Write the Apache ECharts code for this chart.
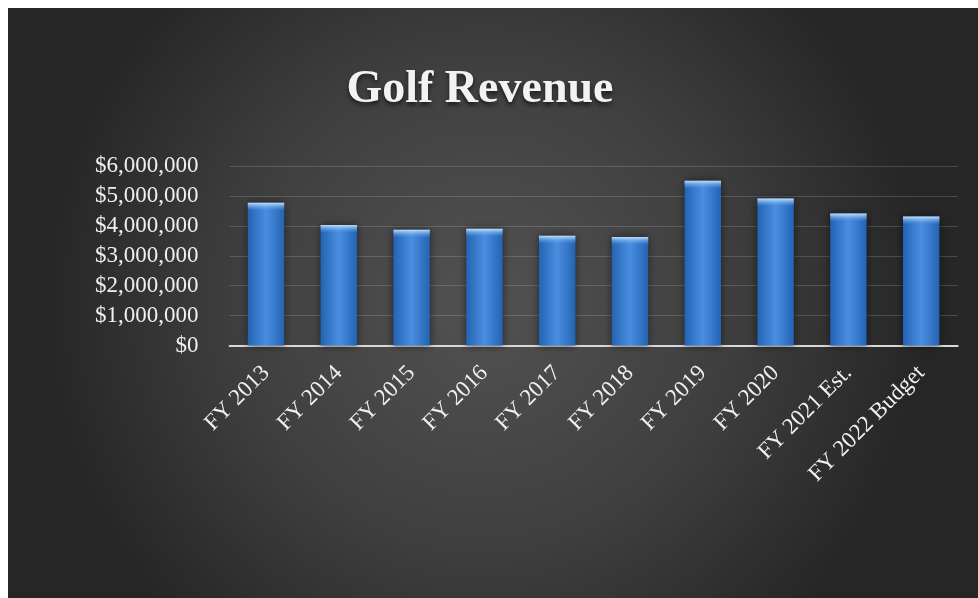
<!DOCTYPE html>
<html>
<head>
<meta charset="utf-8">
<script src="https://cdn.jsdelivr.net/npm/echarts@6/dist/echarts.min.js"></script>
<style>
html,body{margin:0;padding:0;background:#ffffff;}
#chart{position:absolute;left:8px;top:8px;width:970px;height:590px;}
</style>
</head>
<body>
<div id="chart"></div>
<script>
const categories = ["FY 2013","FY 2014","FY 2015","FY 2016","FY 2017","FY 2018","FY 2019","FY 2020","FY 2021 Est.","FY 2022 Budget"];
const revenue = [4770000,4030000,3870000,3900000,3670000,3630000,5510000,4910000,4410000,4310000];
const yTicks = [0,1000000,2000000,3000000,4000000,5000000,6000000];
const titleText = "Golf Revenue";

const chart = echarts.init(document.getElementById('chart'));
const fmt = v => '$' + v.toLocaleString('en-US');
chart.setOption({
  animation:false,
  backgroundColor:{
    type:'radial', x:0.49, y:0.5, r:0.75,
    colorStops:[{offset:0,color:'#525252'},{offset:0.55,color:'#3f3f3f'},{offset:1,color:'#262626'}]
  },
  graphic:[{
    type:'text', x:472, y:82,
    style:{
      text:titleText, fill:'#f2f2f2', fontFamily:'Liberation Serif', fontWeight:'bold',
      fontSize:46, align:'center', verticalAlign:'middle',
      textShadowColor:'rgba(0,0,0,0.6)', textShadowBlur:4, textShadowOffsetY:3
    }
  }],
  grid:{left:221.6, right:20.4, top:158, bottom:252.5},
  xAxis:{
    type:'category', data:categories,
    axisLine:{show:true, lineStyle:{color:'#d9d9d9', width:2}},
    axisTick:{show:false},
    axisLabel:{rotate:45, interval:0, margin:24, color:'#f0f0f0', fontFamily:'Liberation Serif', fontSize:23}
  },
  yAxis:{
    type:'value', min:yTicks[0], max:yTicks[yTicks.length-1], interval:1000000,
    axisLine:{show:false}, axisTick:{show:false},
    splitLine:{lineStyle:{color:'rgba(200,200,200,0.22)', width:1}},
    axisLabel:{margin:31, color:'#f0f0f0', fontFamily:'Liberation Serif', fontSize:23, formatter:fmt}
  },
  series:[{
    type:'bar', data:revenue, barWidth:'50%', barGap:'-100%',
    itemStyle:{
      color:{type:'linear', x:0, y:0, x2:1, y2:0,
        colorStops:[{offset:0,color:'#2463b4'},{offset:0.5,color:'#4a8ee0'},{offset:1,color:'#2463b4'}]},
      shadowColor:'rgba(0,0,0,0.55)', shadowBlur:8
    }
  },{
    type:'pictorialBar', data:revenue, barWidth:'50%', barGap:'-100%',
    symbol:'rect', symbolPosition:'end', symbolSize:['100%',8], symbolOffset:[0,0],
    silent:true, z:3,
    itemStyle:{
      color:{type:'linear', x:0, y:0, x2:0, y2:1,
        colorStops:[{offset:0,color:'rgba(200,230,255,0.95)'},{offset:1,color:'rgba(90,160,235,0)'}]}
    }
  }]
});
</script>
</body>
</html>
